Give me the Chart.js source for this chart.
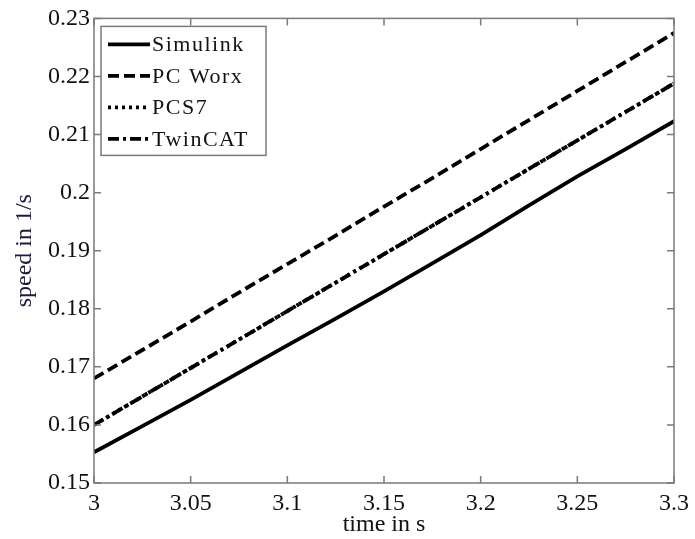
<!DOCTYPE html>
<html>
<head>
<meta charset="utf-8">
<script src="https://cdn.jsdelivr.net/npm/chart.js@4.4.1/dist/chart.umd.min.js"></script>
<style>
  html, body { margin: 0; padding: 0; background: #fff; }
  #wrap { width: 695px; height: 539px; }
</style>
</head>
<body>
<div id="wrap"><canvas id="speedChart"></canvas></div>
<script>
// time axis samples (s)
const timeValues = [3.0, 3.025, 3.05, 3.075, 3.1, 3.125, 3.15, 3.175, 3.2, 3.225, 3.25, 3.275, 3.3];
// speed in 1/s per controller
const simulink = [0.1553, 0.1598, 0.1643, 0.1690, 0.1737, 0.1783, 0.1830, 0.1878, 0.1927, 0.1978, 0.2028, 0.2075, 0.2123];
const pcWorx   = [0.1680, 0.1729, 0.1778, 0.1828, 0.1877, 0.1926, 0.1976, 0.2025, 0.2075, 0.2125, 0.2175, 0.2225, 0.2275];
const pcs7     = [0.1600, 0.1649, 0.1698, 0.1747, 0.1796, 0.1845, 0.1894, 0.1943, 0.1992, 0.2041, 0.2090, 0.2139, 0.2188];
const twinCat  = [0.1600, 0.1649, 0.1698, 0.1747, 0.1796, 0.1845, 0.1894, 0.1943, 0.1992, 0.2041, 0.2090, 0.2139, 0.2188];

const seriesNames = ['Simulink', 'PC Worx', 'PCS7', 'TwinCAT'];
const xTicks = [3, 3.05, 3.1, 3.15, 3.2, 3.25, 3.3];
const yTicks = [0.15, 0.16, 0.17, 0.18, 0.19, 0.2, 0.21, 0.22, 0.23];

const serif = "'Times New Roman', 'Liberation Serif', Times, serif";
const dashes = [[], [11, 5], [3, 4], [11, 4, 3, 4]];

function toPoints(ys) {
    return timeValues.map((t, i) => ({ x: t, y: ys[i] }));
}

const datasets = [simulink, pcWorx, pcs7, twinCat].map((ys, i) => ({
    label: seriesNames[i],
    data: toPoints(ys),
    borderColor: '#000',
    borderWidth: 3.8,
    borderDash: dashes[i],
    pointRadius: 0,
    tension: 0,
    fill: false
}));

// MATLAB-like box: inward ticks on all four sides
const boxTicks = {
    id: 'boxTicks',
    afterDraw(chart) {
        const { ctx, chartArea: a, scales } = chart;
        ctx.save();
        ctx.strokeStyle = '#7a7a7a';
        ctx.lineWidth = 1.5;
        ctx.strokeRect(a.left, a.top, a.right - a.left, a.bottom - a.top);
        ctx.beginPath();
        xTicks.forEach(v => {
            const px = scales.x.getPixelForValue(v);
            ctx.moveTo(px, a.bottom); ctx.lineTo(px, a.bottom - 7);
            ctx.moveTo(px, a.top); ctx.lineTo(px, a.top + 7);
        });
        yTicks.forEach(v => {
            const py = scales.y.getPixelForValue(v);
            ctx.moveTo(a.left, py); ctx.lineTo(a.left + 7, py);
            ctx.moveTo(a.right, py); ctx.lineTo(a.right - 7, py);
        });
        ctx.stroke();
        ctx.restore();
    }
};

// legend box in the upper left corner
const boxLegend = {
    id: 'boxLegend',
    afterDraw(chart) {
        const { ctx, chartArea: a } = chart;
        const x0 = a.left + 7, y0 = a.top + 8, w = 165, h = 129;
        ctx.save();
        ctx.fillStyle = '#fff';
        ctx.fillRect(x0, y0, w, h);
        ctx.strokeStyle = '#7a7a7a';
        ctx.lineWidth = 1.5;
        ctx.strokeRect(x0, y0, w, h);
        ctx.font = '22px ' + serif;
        ctx.letterSpacing = '1.5px';
        ctx.textBaseline = 'middle';
        ctx.fillStyle = '#111';
        chart.data.datasets.forEach((ds, i) => {
            const y = y0 + 18 + i * 31.5;
            ctx.beginPath();
            ctx.setLineDash(ds.borderDash);
            ctx.lineWidth = 3.8;
            ctx.strokeStyle = '#000';
            ctx.moveTo(x0 + 7, y);
            ctx.lineTo(x0 + 49, y);
            ctx.stroke();
            ctx.fillText(ds.label, x0 + 51, y + 1);
        });
        ctx.restore();
    }
};

const fmt = v => String(+v.toFixed(2));

new Chart(document.getElementById('speedChart'), {
    type: 'line',
    data: { datasets },
    options: {
        responsive: true,
        maintainAspectRatio: false,
        animation: false,
        layout: { padding: { top: 17, right: 16, left: 0, bottom: 0 } },
        plugins: { legend: { display: false }, tooltip: { enabled: false } },
        scales: {
            x: {
                type: 'linear',
                min: 3,
                max: 3.3,
                afterBuildTicks: s => { s.ticks = xTicks.map(v => ({ value: v })); },
                afterFit: s => { s.height = 56; },
                grid: { display: false, drawTicks: false },
                border: { display: false },
                ticks: { color: '#111', padding: 6, maxRotation: 0, font: { family: serif, size: 24 }, callback: fmt },
                title: { display: true, text: 'time in s', color: '#111', padding: { top: 0, bottom: 0 }, font: { family: serif, size: 24 } }
            },
            y: {
                min: 0.15,
                max: 0.23,
                afterBuildTicks: s => { s.ticks = yTicks.map(v => ({ value: v })); },
                afterFit: s => { s.width = 94; },
                grid: { display: false, drawTicks: false },
                border: { display: false },
                ticks: { color: '#111', padding: 4, font: { family: serif, size: 24 }, callback: fmt },
                title: { display: true, text: 'speed in 1/s', color: '#1a1a3a', padding: { top: 10, bottom: 0 }, font: { family: serif, size: 24 } }
            }
        }
    },
    plugins: [boxTicks, boxLegend]
});
</script>
</body>
</html>
